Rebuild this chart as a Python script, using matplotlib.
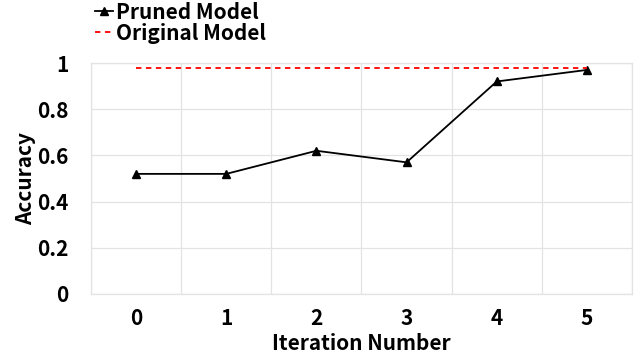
import matplotlib
matplotlib.use("Agg")
import matplotlib.pyplot as plt
import numpy as np

plt.rcParams['font.family'] = ['Noto Sans CJK SC', 'DejaVu Sans']
plt.rcParams['font.weight'] = 'bold'

iterations = ["0", "1", "2", "3", "4", "5"]
pruned_acc = [0.52, 0.52, 0.62, 0.57, 0.92, 0.97]
original_acc = [0.98, 0.98, 0.98, 0.98, 0.98, 0.98]
y_ticks = [0, 0.2, 0.4, 0.6, 0.8, 1]
y_tick_labels = ["0", "0.2", "0.4", "0.6", "0.8", "1"]

FS = 15
fig = plt.figure(figsize=(6.4, 3.62), dpi=100)
ax = fig.add_axes([91/640, 1-294/362, (632-91)/640, (294-63)/362])

x = np.arange(len(iterations))
ax.plot(x, pruned_acc, color='black', marker='^', markersize=6, linewidth=1.3, label='Pruned Model')
ax.plot(x, original_acc, color='red', linestyle=(0, (3, 2.5)), linewidth=1.3, label='Original Model')

ax.set_xlim(-0.5, len(iterations) - 0.5)
ax.set_ylim(0, 1)
ax.set_xticks(x)
ax.set_xticklabels(iterations, fontsize=FS, fontweight='bold')
ax.set_xticks(np.arange(-0.5, len(iterations), 1), minor=True)
ax.set_yticks(y_ticks)
ax.set_yticklabels(y_tick_labels, fontsize=FS, fontweight='bold')
ax.tick_params(axis='both', which='both', length=0)
ax.tick_params(axis='x', pad=10)
ax.tick_params(axis='y', pad=16)
ax.grid(True, which='major', axis='y', color='#e3e3e3', linewidth=0.9)
ax.grid(True, which='minor', axis='x', color='#e3e3e3', linewidth=0.9)
for s in ax.spines.values():
    s.set_color('#e3e3e3')
    s.set_linewidth(0.9)

ax.set_xlabel('Iteration Number', fontsize=FS, fontweight='bold', labelpad=3)
ax.set_ylabel('Accuracy', fontsize=FS, fontweight='bold', labelpad=1)

leg = fig.legend(loc='upper left', bbox_to_anchor=(82/640, 1.03), frameon=False,
                 handlelength=0.9, handletextpad=0.15, labelspacing=0.0,
                 borderpad=0.1, prop={'weight': 'bold', 'size': FS})

fig.savefig('out.png', dpi=100)
